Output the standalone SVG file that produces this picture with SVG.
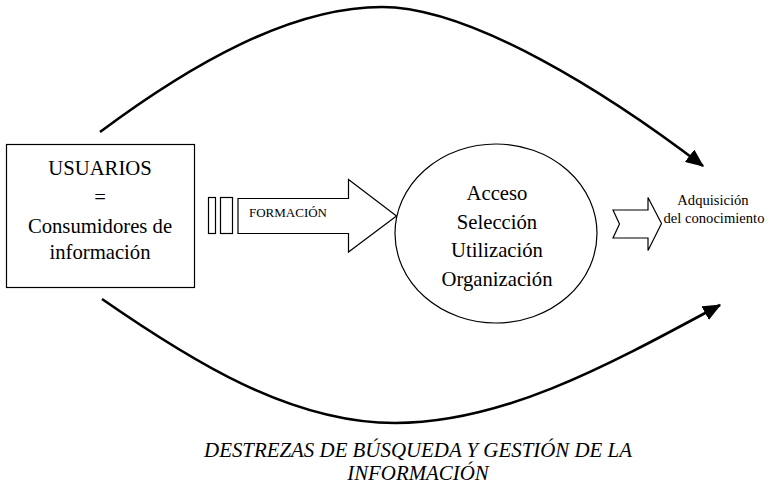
<svg xmlns="http://www.w3.org/2000/svg" width="770" height="489" viewBox="0 0 770 489" font-family="Liberation Serif, Times New Roman, serif">
<style>
text{fill:#000;text-anchor:middle}
.t20{font-size:20.7px}
.sm{font-size:13px}
.lbl{font-size:14.6px}
.it{font-size:20.9px;font-style:italic}
.shape{fill:#fff;stroke:#000;stroke-width:1.2}
.curve{fill:none;stroke:#000;stroke-width:2.6}
</style>
<defs>
<marker id="ah" markerWidth="7" markerHeight="6" refX="6.5" refY="3" orient="auto" markerUnits="strokeWidth">
<path d="M0,0 L7,3 L0,6 Z" fill="#000"/>
</marker>
</defs>
<rect width="770" height="489" fill="#fff"/>
<g id="connectors">
<path class="curve" d="M100,132 C190,65 290,7 382,7 C472,7 610,95 703,166" marker-end="url(#ah)"/>
<path class="curve" d="M102,299 C190,360 290,423 395,423 C500,423 600,370 720,305" marker-end="url(#ah)"/>
</g>
<g id="usuarios">
<rect class="shape" x="6.5" y="144.5" width="188" height="143"/>
<text class="t20" x="100" y="175">USUARIOS</text>
<text class="t20" x="100" y="204">=</text>
<text class="t20" x="100" y="233">Consumidores de</text>
<text class="t20" x="100" y="259">información</text>
</g>
<g id="formacion">
<rect class="shape" x="208.5" y="197.5" width="7" height="36"/>
<rect class="shape" x="220.5" y="197.5" width="12" height="36"/>
<path class="shape" d="M238,198.5 L348.5,198.5 L348.5,179.5 L396.5,216 L348.5,252 L348.5,233.5 L238,233.5 Z"/>
<text class="sm" x="288" y="217">FORMACIÓN</text>
</g>
<g id="proceso">
<ellipse class="shape" cx="496" cy="233.5" rx="101" ry="89.5"/>
<text class="t20" x="497" y="200">Acceso</text>
<text class="t20" x="497" y="228.5">Selección</text>
<text class="t20" x="497" y="257">Utilización</text>
<text class="t20" x="497" y="285.5">Organización</text>
</g>
<g id="adquisicion">
<path class="shape" d="M613,210 L648,210 L648,197.5 L661.5,223.5 L648,250.5 L648,238 L613,238 L619.5,224 Z"/>
<text class="lbl" x="713" y="205">Adquisición</text>
<text class="lbl" x="714" y="223">del conocimiento</text>
</g>
<g id="destrezas">
<text class="it" x="418" y="457">DESTREZAS DE BÚSQUEDA Y GESTIÓN DE LA</text>
<text class="it" x="418" y="480">INFORMACIÓN</text>
</g>
</svg>
